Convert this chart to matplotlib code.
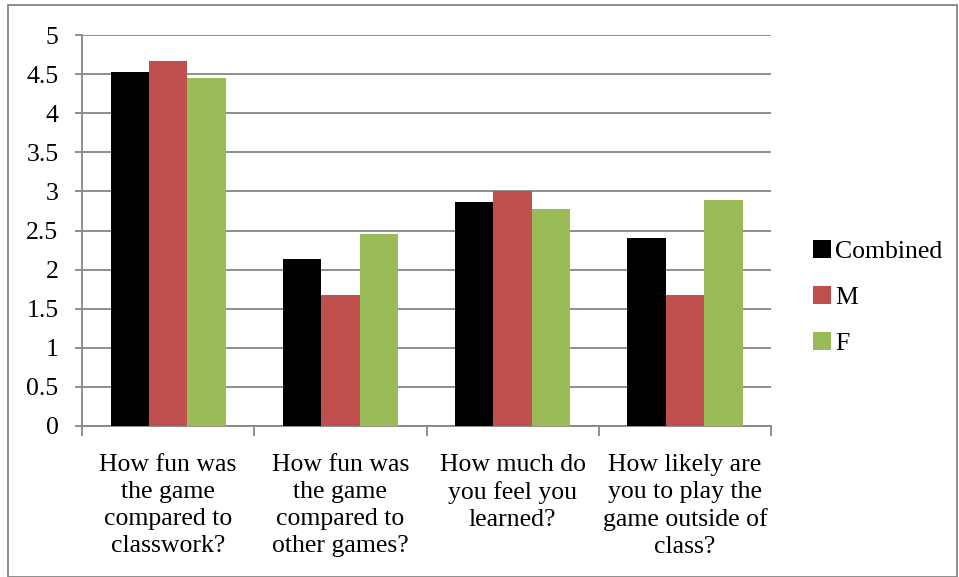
import numpy as np
import matplotlib
matplotlib.use("Agg")
import matplotlib.pyplot as plt
from matplotlib.patches import Rectangle

# survey questions and mean scores per group
questions = [
    "How fun was\nthe game\ncompared to\nclasswork?",
    "How fun was\nthe game\ncompared to\nother games?",
    "How much do\nyou feel you\nlearned?",
    "How likely are\nyou to play the\ngame outside of\nclass?",
]
combined = [4.53, 2.13, 2.87, 2.40]
male = [4.67, 1.67, 3.00, 1.67]
female = [4.45, 2.45, 2.78, 2.89]
series_names = ["Combined", "M", "F"]
colors = ["#000000", "#c0504d", "#9bbb59"]
yticks = [0, 0.5, 1, 1.5, 2, 2.5, 3, 3.5, 4, 4.5, 5]

plt.rcParams['font.family'] = ['Liberation Serif', 'DejaVu Serif']

fig = plt.figure(figsize=(9.59, 5.77), dpi=100)
ax = fig.add_axes([0.0855, 0.2617, 0.7185, 0.6776])

x = np.arange(len(questions))
w = 0.223
for i, (vals, name, c) in enumerate(zip([combined, male, female], series_names, colors)):
    ax.bar(x + (i - 1) * w, vals, width=w, color=c, label=name, zorder=3)

ax.set_xlim(-0.5, len(questions) - 0.5)
ax.set_ylim(0, 5)
ax.set_yticks(yticks)
ax.set_yticklabels([f"{t:g}" for t in yticks], fontsize=18.5)
ax.yaxis.grid(True, color="#868686", linewidth=1.3, zorder=0)
ax.tick_params(axis='y', length=5, color="#868686", width=1.3, pad=12)

ax.set_xticks(np.arange(-0.5, len(questions), 1.0))
ax.set_xticklabels([])
ax.set_xticks(x, minor=True)
ax.set_xticklabels(questions, minor=True, fontsize=18.5, linespacing=1.3)
ax.tick_params(axis='x', which='major', length=7, color="#868686", width=1.3)
ax.tick_params(axis='x', which='minor', length=0, pad=20)

for side in ["top", "right"]:
    ax.spines[side].set_visible(False)
for side in ["left", "bottom"]:
    ax.spines[side].set_color("#868686")
    ax.spines[side].set_linewidth(1.3)

fig.legend(loc="center left", bbox_to_anchor=(0.824, 0.484), frameon=False,
           fontsize=18.5, handlelength=0.7, handleheight=0.7, handletextpad=0.15,
           labelspacing=0.9)

fig.patches.append(Rectangle((8 / 959, 0.0), 949 / 959, 1 - 5 / 577, transform=fig.transFigure,
                             fill=False, edgecolor="#868686", linewidth=1.3))

fig.savefig("out.png", dpi=100)
